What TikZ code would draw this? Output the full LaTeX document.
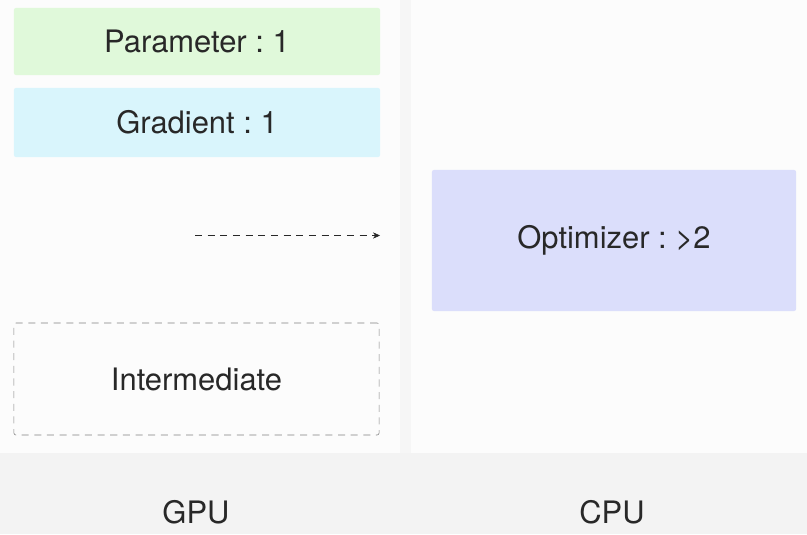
\documentclass[tikz,border=0pt]{standalone}
\usepackage{fontspec}
\setmainfont{TeX Gyre Heros}
\usepackage{tikz}
\usetikzlibrary{arrows.meta}
\definecolor{paramGreen}{RGB}{224,249,218}
\definecolor{gradCyan}{RGB}{217,245,252}
\definecolor{optLavender}{RGB}{219,222,251}
\definecolor{panelWhite}{RGB}{252,252,252}
\definecolor{gapGrey}{RGB}{246,246,246}
\definecolor{stripGrey}{RGB}{243,243,243}
\definecolor{textGrey}{RGB}{40,40,40}
\frenchspacing

\begin{document}
\begin{tikzpicture}[
  x=0.025cm, y=-0.025cm,
  boxStyle/.style={rectangle, rounded corners=0.05cm, minimum width=9.15cm, align=center, text=textGrey, font=\fontsize{22}{26}\selectfont},
  labelStyle/.style={text=textGrey, font=\fontsize{22}{26}\selectfont}]

\useasboundingbox (0, 0) rectangle (807, 534);
\fill [gapGrey] (0, 0) rectangle (807, 453);
\fill [stripGrey] (0, 453) rectangle (807, 534);
\fill [panelWhite] (0, 0) rectangle (400, 453);
\fill [panelWhite] (411, 0) rectangle (807, 453);

\node [boxStyle, fill=paramGreen, minimum height=1.675cm] (parameter) at (197, 41.5) {Parameter : 1};
\node [boxStyle, fill=gradCyan, minimum height=1.725cm] (gradient) at (197, 122.5) {Gradient : 1};
\node [boxStyle, draw=black!50, dashed, dash pattern=on 5pt off 4pt, minimum width=9.125cm, minimum height=2.8cm] (intermediate) at (196.5, 379) {Intermediate};
\node [boxStyle, fill=optLavender, minimum width=9.1cm, minimum height=3.525cm] (optimizer) at (614, 240.5) {Optimizer : >2};

\coordinate (arrowStart) at (195, 235.5);
\coordinate (arrowEnd) at (380, 235.5);
\draw [textGrey, dashed, dash pattern=on 5pt off 4pt, -{Stealth[length=5pt, width=4.5pt]}] (arrowStart) -- (arrowEnd);

\node [labelStyle] (gpu) at (196, 512) {GPU};
\node [labelStyle] (cpu) at (612, 512) {CPU};
\end{tikzpicture}
\end{document}
